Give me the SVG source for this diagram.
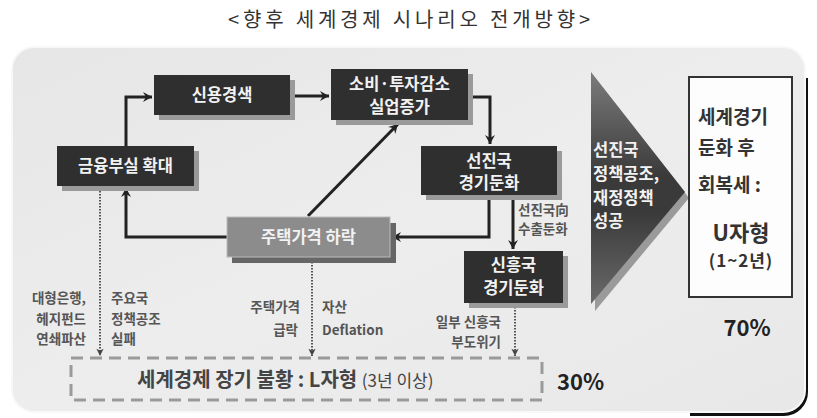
<svg xmlns="http://www.w3.org/2000/svg" width="817" height="418" viewBox="0 0 817 418">
<defs>
<linearGradient id="panelG" x1="0" y1="0" x2="1" y2="1">
<stop offset="0" stop-color="#e6e6e6"/><stop offset="0.5" stop-color="#ededed"/><stop offset="1" stop-color="#e8e8e8"/>
</linearGradient>
<linearGradient id="triG" x1="0" y1="0" x2="0" y2="1">
<stop offset="0" stop-color="#7c7c7c"/><stop offset="0.45" stop-color="#3a3a3a"/><stop offset="0.6" stop-color="#3a3a3a"/><stop offset="1" stop-color="#6a6a6a"/>
</linearGradient>
<marker id="ah" viewBox="0 0 12 12" refX="10" refY="6" markerWidth="12" markerHeight="12" markerUnits="userSpaceOnUse" orient="auto">
<path d="M1,1 L10,6 L1,11 L4,6 Z" fill="#222"/>
</marker>
<marker id="ahs" viewBox="0 0 10 10" refX="9" refY="5" markerWidth="9" markerHeight="9" markerUnits="userSpaceOnUse" orient="auto">
<path d="M1,1 L9,5 L1,9 L3,5 Z" fill="#444"/>
</marker>
</defs>
<style>
.ko{font-family:"Noto Sans CJK KR","Noto Sans",sans-serif}
.node{fill:#2f2f2f}
.shadow{fill:#9a9a9a}
.nt{font-family:"Noto Sans CJK KR",sans-serif;font-size:16.5px;font-weight:bold;fill:#f2f2f2;text-anchor:middle}
.ntl{font-family:"Noto Sans CJK KR",sans-serif;font-size:16.5px;font-weight:bold;fill:#f2f2f2;text-anchor:start}
.lab{font-family:"Noto Sans CJK KR",sans-serif;font-size:13.5px;font-weight:bold;fill:#555}
.conn{fill:none;stroke:#222;stroke-width:3;marker-end:url(#ah)}
.dot{fill:none;stroke:#555;stroke-width:2;stroke-dasharray:1.5 1.5;marker-end:url(#ahs)}
.rt{font-family:"Noto Sans CJK KR",sans-serif;font-weight:bold;fill:#333}
.pct{font-family:"Noto Sans CJK KR",sans-serif;font-weight:bold;fill:#222;font-size:22px}
</style>

<text class="ko" x="409" y="27" font-size="20" fill="#333" text-anchor="middle" textLength="362" lengthAdjust="spacing">&lt;향후 세계경제 시나리오 전개방향&gt;</text>

<g id="panel">
<path d="M806,78 V392 A22,22 0 0 1 784,414 H690" fill="none" stroke="#111" stroke-width="4"/>
<rect x="12" y="47" width="793" height="365" rx="22" fill="url(#panelG)" stroke="#f8f8f8" stroke-width="2"/>
</g>

<g id="connectors">
<path class="conn" d="M126,146 V97 H152"/>
<path class="conn" d="M290,96 H329"/>
<path class="conn" d="M468,97 H490 V144"/>
<path class="conn" d="M308,216 L398,124"/>
<path class="conn" d="M489,195 V237 H392"/>
<path class="conn" d="M227,237 H126 V188"/>
<path class="conn" d="M513,195 V249"/>
<path class="dot" d="M100,188 V356"/>
<path class="dot" d="M312,262 V356"/>
<path class="dot" d="M515,307 V356"/>
</g>

<g id="n-credit">
<rect class="shadow" x="159" y="80" width="136" height="40"/>
<rect class="node" x="154" y="75" width="136" height="40"/>
<text class="nt" x="222" y="101">신용경색</text>
</g>

<g id="n-consume">
<rect class="shadow" x="336" y="74" width="137" height="51"/>
<rect class="node" x="331" y="69" width="137" height="51"/>
<text class="nt" x="399.5" y="90">소비·투자감소</text>
<text class="nt" x="399.5" y="113">실업증가</text>
</g>

<g id="n-finance">
<rect class="shadow" x="62" y="151" width="137" height="40"/>
<rect class="node" x="57" y="146" width="137" height="40"/>
<text class="nt" x="125.5" y="172">금융부실 확대</text>
</g>

<g id="n-advanced">
<rect class="shadow" x="426" y="151" width="136" height="49"/>
<rect class="node" x="421" y="146" width="136" height="49"/>
<text class="nt" x="489" y="167">선진국</text>
<text class="nt" x="489" y="189">경기둔화</text>
</g>

<g id="n-housing">
<rect x="232" y="223" width="164" height="40" fill="#666"/>
<rect x="227" y="217" width="163" height="40" fill="#8c8c8c" stroke="#bbb" stroke-width="1"/>
<text class="nt" x="308.5" y="243">주택가격 하락</text>
</g>

<g id="n-emerging">
<rect class="shadow" x="469" y="256" width="99" height="52"/>
<rect class="node" x="464" y="251" width="99" height="52"/>
<text class="nt" x="513.5" y="271">신흥국</text>
<text class="nt" x="513.5" y="294">경기둔화</text>
</g>

<g id="labels">
<text class="lab" x="518" y="215">선진국向</text>
<text class="lab" x="518" y="234">수출둔화</text>
<text class="lab" x="86" y="303" style="text-anchor:end">대형은행,</text>
<text class="lab" x="86" y="324" style="text-anchor:end">헤지펀드</text>
<text class="lab" x="86" y="344" style="text-anchor:end">연쇄파산</text>
<text class="lab" x="111" y="303">주요국</text>
<text class="lab" x="111" y="324">정책공조</text>
<text class="lab" x="111" y="344">실패</text>
<text class="lab" x="300" y="312" style="text-anchor:end">주택가격</text>
<text class="lab" x="298" y="335" style="text-anchor:end">급락</text>
<text class="lab" x="322" y="312">자산</text>
<text class="lab" x="322" y="335">Deflation</text>
<text class="lab" x="501" y="327" style="text-anchor:end">일부 신흥국</text>
<text class="lab" x="501" y="347" style="text-anchor:end">부도위기</text>
</g>

<g id="n-lshape">
<rect x="71" y="358" width="471" height="42" fill="none" stroke="#9a9a9a" stroke-width="3" stroke-dasharray="12 7"/>
<text class="rt" x="137" y="387" font-size="20" style="fill:#444">세계경제 장기 불황 : L자형 <tspan font-size="17" font-weight="normal">(3년 이상)</tspan></text>
<text class="pct" x="557" y="390">30%</text>
</g>

<g id="n-policy">
<polygon points="595,78 689,198 595,311" fill="#9a9a9a"/>
<polygon points="591,72 685,192 591,304" fill="url(#triG)"/>
<text class="ntl" x="593" y="156">선진국</text>
<text class="ntl" x="593" y="180">정책공조,</text>
<text class="ntl" x="593" y="204">재정정책</text>
<text class="ntl" x="593" y="227">성공</text>
</g>

<g id="n-ushape">
<rect x="689" y="77" width="103" height="220" fill="#fdfdfd" stroke="#333" stroke-width="2"/>
<text class="rt" x="698" y="124" font-size="19">세계경기</text>
<text class="rt" x="698" y="155" font-size="19">둔화 후</text>
<text class="rt" x="698" y="192" font-size="19">회복세 :</text>
<text class="rt" x="741" y="241" font-size="22" text-anchor="middle">U자형</text>
<text class="rt" x="741" y="267" font-size="17" text-anchor="middle" letter-spacing="1">(1~2년)</text>
<text class="pct" x="747" y="336" text-anchor="middle">70%</text>
</g>
</svg>
